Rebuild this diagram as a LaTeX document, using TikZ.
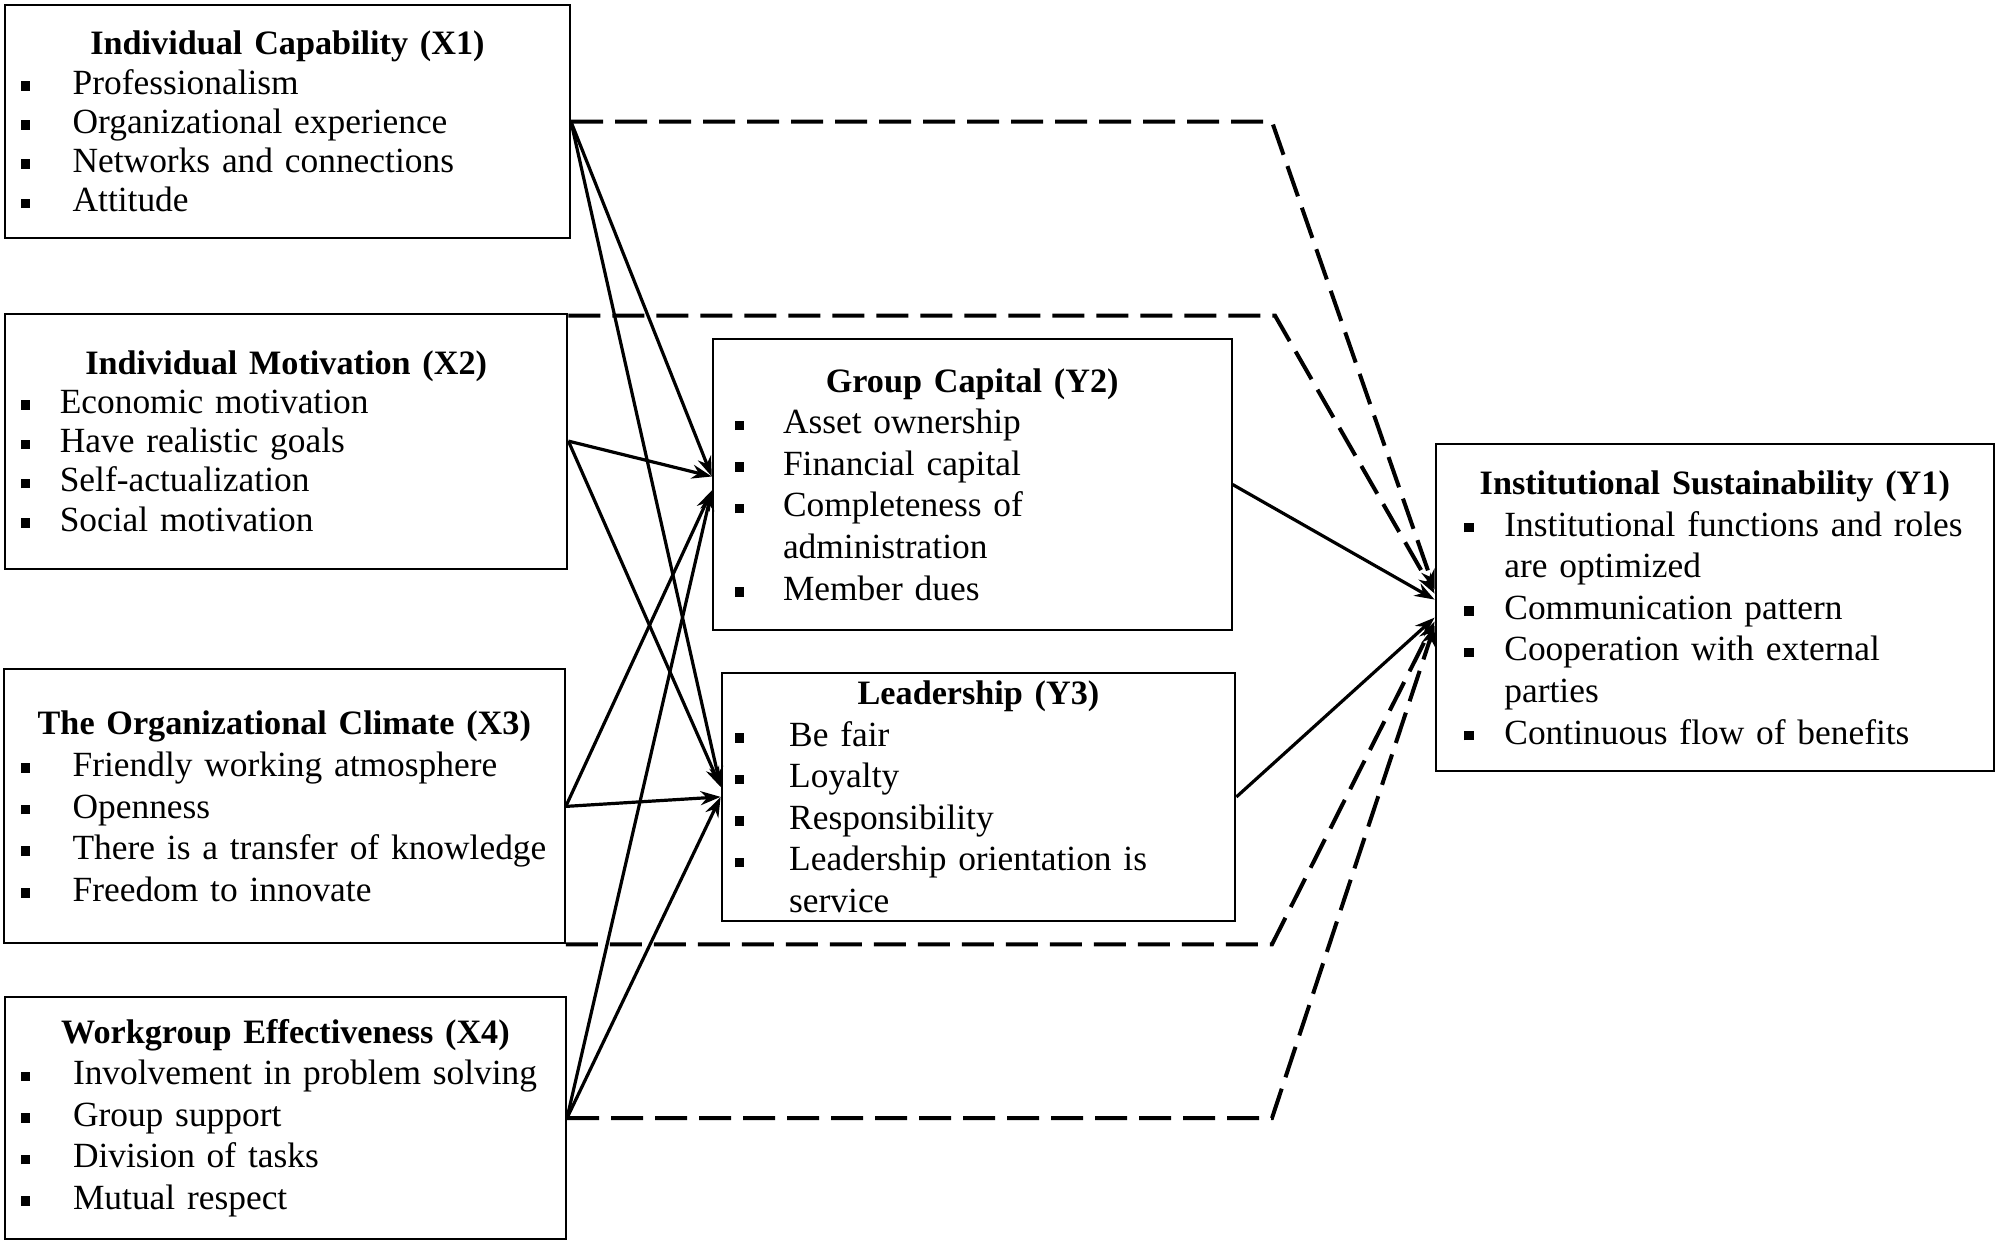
\documentclass[tikz,border=0pt]{standalone}
\usepackage{fontspec}
\setmainfont{Liberation Serif}
\usetikzlibrary{arrows.meta,calc}
\newcommand{\bitem}[3]{\makebox[#2][l]{\hspace*{\dimexpr#1-2.4pt\relax}\raisebox{1.8pt}{\rule{4.8pt}{4.8pt}}}#3}
\newcommand{\cont}[2]{\hspace*{#1}#2}
\newcommand{\ttl}[2]{\makebox[#1][c]{\fontsize{17.1}{19}\selectfont\bfseries #2}}
\begin{document}
\begin{tikzpicture}[x=1pt,y=-1pt,
  box/.style={draw,line width=1pt,rectangle,inner xsep=0pt,inner ysep=0pt,align=left,font=\fontsize{17.7}{20.8}\selectfont},
  tight/.style={font=\fontsize{17.7}{19.6}\selectfont},
  solidarr/.style={line width=1.6pt,-{Stealth[length=10pt,width=7pt]}},
  dasharr/.style={line width=2pt,dash pattern=on 16pt off 6pt,-{Stealth[length=10pt,width=7pt]}}]
\fill[white] (0,0) rectangle (999.5,623);
\useasboundingbox (0,0) rectangle (999.5,623);

\node[box,tight,text width=282.5pt,minimum height=116.7pt] (X1) at (143.75,60.85) {%
\ttl{282.5pt}{Individual Capability (X1)}\\
\bitem{10.2pt}{33.8pt}{Professionalism}\\
\bitem{10.2pt}{33.8pt}{Organizational experience}\\
\bitem{10.2pt}{33.8pt}{Networks and connections}\\
\bitem{10.2pt}{33.8pt}{Attitude}};

\node[box,tight,text width=281.2pt,minimum height=127.5pt] (X2) at (143.1,220.55) {%
\ttl{281.2pt}{Individual Motivation (X2)}\\
\bitem{10.2pt}{27.4pt}{Economic motivation}\\
\bitem{10.2pt}{27.4pt}{Have realistic goals}\\
\bitem{10.2pt}{27.4pt}{Self-actualization}\\
\bitem{10.2pt}{27.4pt}{Social motivation}};

\node[box,text width=280.5pt,minimum height=137pt] (X3) at (142.15,403.2) {%
\ttl{280.5pt}{The Organizational Climate (X3)}\\
\bitem{10.8pt}{34.4pt}{Friendly working atmosphere}\\
\bitem{10.8pt}{34.4pt}{Openness}\\
\bitem{10.8pt}{34.4pt}{There is a transfer of knowledge}\\
\bitem{10.8pt}{34.4pt}{Freedom to innovate}};

\node[box,text width=280.5pt,minimum height=121.1pt] (X4) at (142.75,559.05) {%
\ttl{280.5pt}{Workgroup Effectiveness (X4)}\\
\bitem{10.2pt}{34pt}{Involvement in problem solving}\\
\bitem{10.2pt}{34pt}{Group support}\\
\bitem{10.2pt}{34pt}{Division of tasks}\\
\bitem{10.2pt}{34pt}{Mutual respect}};

\node[box,text width=259.4pt,minimum height=145.3pt] (Y2) at (486.1,242.25) {%
\ttl{259.4pt}{Group Capital (Y2)}\\
\bitem{13.4pt}{35.1pt}{Asset ownership}\\
\bitem{13.4pt}{35.1pt}{Financial capital}\\
\bitem{13.4pt}{35.1pt}{Completeness of}\\
\cont{35.1pt}{administration}\\
\bitem{13.4pt}{35.1pt}{Member dues}};

\node[box,text width=256.9pt,minimum height=123.7pt] (Y3) at (489.25,398.45) {%
\ttl{256.9pt}{Leadership (Y3)}\\
\bitem{8.9pt}{33.8pt}{Be fair}\\
\bitem{8.9pt}{33.8pt}{Loyalty}\\
\bitem{8.9pt}{33.8pt}{Responsibility}\\
\bitem{8.9pt}{33.8pt}{Leadership orientation is}\\
\cont{33.8pt}{service}};

\node[box,text width=279.2pt,minimum height=163.8pt] (Y1) at (857.4,303.8) {%
\ttl{279.2pt}{Institutional Sustainability (Y1)}\\
\bitem{16.6pt}{34.4pt}{Institutional functions and roles}\\
\cont{34.4pt}{are optimized}\\
\bitem{16.6pt}{34.4pt}{Communication pattern}\\
\bitem{16.6pt}{34.4pt}{Cooperation with external}\\
\cont{34.4pt}{parties}\\
\bitem{16.6pt}{34.4pt}{Continuous flow of benefits}};

% helper coordinates
\coordinate (k) at (636,0);
\coordinate (k2) at (637.5,0);
\coordinate (s2) at ($(X2.north east)+(0,1.5)$);
\coordinate (t1) at ($(Y1.west)+(0,-9)$);
\coordinate (t2) at ($(Y1.west)+(0,-7)$);
\coordinate (t3) at ($(Y1.west)+(0,7)$);
\coordinate (t4) at ($(Y1.west)+(0,9)$);
\coordinate (y2a) at ($(Y2.west)+(0,-4)$);
\coordinate (y2b) at ($(Y2.west)+(0,3)$);
\coordinate (y3a) at ($(Y3.west)+(0,-5)$);
\coordinate (y3b) at ($(Y3.west)+(0,0)$);
\coordinate (u1) at ($(Y1.west)+(0,-4)$);
\coordinate (u2) at ($(Y1.west)+(0,5)$);

% dashed direct paths
\draw[dasharr] (X1.east) -- (X1.east -| k) -- (t1);
\draw[dasharr] (s2) -- (s2 -| k2) -- (t2);
\draw[dasharr] (X3.south east) -- (X3.south east -| k) -- (t3);
\draw[dasharr] (X4.east) -- (X4.east -| k) -- (t4);

% solid paths
\draw[solidarr] (X1.east) -- (y2a);
\draw[solidarr] (X2.east) -- (y2a);
\draw[solidarr] (X3.east) -- (y2b);
\draw[solidarr] (X4.east) -- (y2b);
\draw[solidarr] (X1.east) -- (y3a);
\draw[solidarr] (X2.east) -- (y3a);
\draw[solidarr] (X3.east) -- (y3b);
\draw[solidarr] (X4.east) -- (y3b);
\draw[solidarr] (Y2.east) -- (u1);
\draw[solidarr] (Y3.east) -- (u2);
\end{tikzpicture}
\end{document}
